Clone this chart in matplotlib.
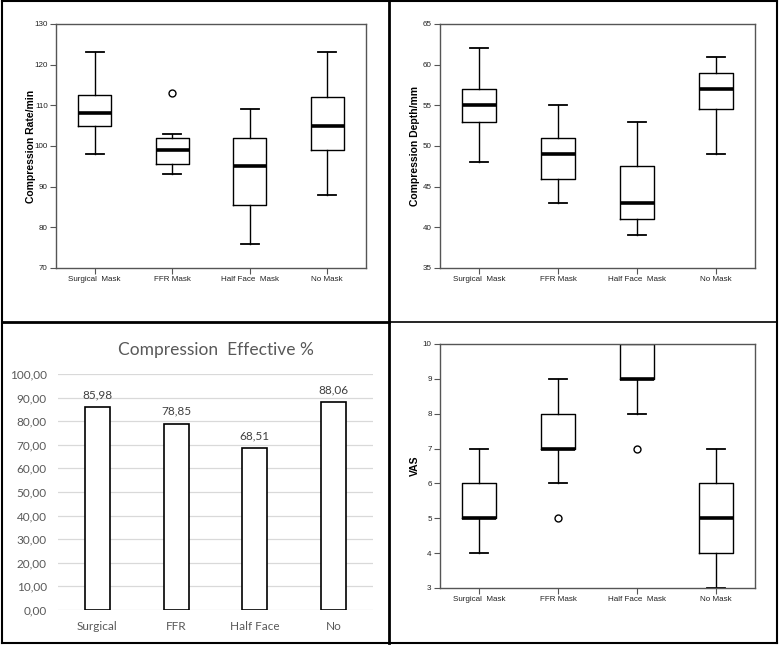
import matplotlib.pyplot as plt
from matplotlib.lines import Line2D

masks = ["Surgical  Mask", "FFR Mask", "Half Face  Mask", "No Mask"]
bar_names = ["Surgical", "FFR", "Half Face", "No"]

# box stats: low whisker, q1, median, q3, high whisker, outliers
rate_lo = [98, 93, 76, 88]
rate_q1 = [105, 95.5, 85.5, 99]
rate_med = [108, 99, 95, 105]
rate_q3 = [112.5, 102, 102, 112]
rate_hi = [123, 103, 109, 123]
rate_out = [[], [113], [], []]

depth_lo = [48, 43, 39, 49]
depth_q1 = [53, 46, 41, 54.5]
depth_med = [55, 49, 43, 57]
depth_q3 = [57, 51, 47.5, 59]
depth_hi = [62, 55, 53, 61]
depth_out = [[], [], [], []]

vas_lo = [4, 6, 8, 3]
vas_q1 = [5, 7, 9, 4]
vas_med = [5, 7, 9, 5]
vas_q3 = [6, 8, 10, 6]
vas_hi = [7, 9, 10, 7]
vas_out = [[], [5], [7], []]

effective = [85.98, 78.85, 68.51, 88.06]

W, H = 779, 645
fig = plt.figure(figsize=(W / 100, H / 100), dpi=100)
plt.rcParams['font.family'] = ['Liberation Sans', 'DejaVu Sans']


def px(x0, y0, x1, y1):
    return [x0 / W, 1 - y1 / H, (x1 - x0) / W, (y1 - y0) / H]


def boxpanel(rect, lo, q1, med, q3, hi, out, ylim, yticks, ylabel):
    ax = fig.add_axes(rect)
    stats = []
    for i in range(4):
        stats.append(dict(whislo=lo[i], q1=q1[i], med=med[i], q3=q3[i],
                          whishi=hi[i], fliers=out[i]))
    ax.bxp(stats, positions=[1, 2, 3, 4], widths=0.43, capwidths=0.23,
           boxprops=dict(color='black', linewidth=1.0),
           whiskerprops=dict(color='black', linewidth=1.0),
           capprops=dict(color='black', linewidth=1.3),
           medianprops=dict(color='black', linewidth=2.6, solid_capstyle='butt'),
           flierprops=dict(marker='o', markerfacecolor='white',
                           markeredgecolor='black', markersize=5, markeredgewidth=1.0))
    ax.set_xlim(0.5, 4.5)
    ax.set_ylim(*ylim)
    ax.set_yticks(yticks)
    ax.set_xticks([1, 2, 3, 4])
    ax.set_xticklabels(masks)
    for s in ax.spines.values():
        s.set_color('#555555')
        s.set_linewidth(1.0)
    ax.tick_params(axis='both', direction='out', length=4, width=0.8,
                   color='#555555', labelsize=5.8, labelcolor='#222222', pad=2)
    ax.set_ylabel(ylabel, fontsize=7.5, fontweight='bold')
    ax.yaxis.set_label_coords(-0.065, 0.5)
    return ax


boxpanel(px(56, 24, 366, 268), rate_lo, rate_q1, rate_med, rate_q3, rate_hi, rate_out,
         (70, 130), range(70, 131, 10), "Compression Rate/min")
boxpanel(px(440, 24, 755, 268), depth_lo, depth_q1, depth_med, depth_q3, depth_hi, depth_out,
         (35, 65), range(35, 66, 5), "Compression Depth/mm")
boxpanel(px(440, 344, 755, 588), vas_lo, vas_q1, vas_med, vas_q3, vas_hi, vas_out,
         (3, 10), range(3, 11), "VAS")

# Excel style bar chart
ax = fig.add_axes(px(58, 374, 373, 610))
x = range(len(effective))
ax.bar(x, effective, width=0.32, color='white', edgecolor='black', linewidth=1.2, zorder=3)
for i, v in enumerate(effective):
    ax.text(i, v + 3, f"{v:.2f}".replace('.', ','), ha='center', va='bottom',
            fontsize=8.5, color='#404040', family=['Lato', 'DejaVu Sans'])
ax.set_xlim(-0.5, 3.5)
ax.set_ylim(0, 100)
ax.set_yticks(range(0, 101, 10))
ax.set_yticklabels([f"{v},00" for v in range(0, 101, 10)])
ax.set_xticks(list(x))
ax.set_xticklabels(bar_names)
ax.grid(axis='y', color='#d9d9d9', linewidth=0.9, zorder=0)
for s in ax.spines.values():
    s.set_visible(False)
ax.tick_params(length=0, labelsize=8.5, labelcolor='#595959', pad=8)
for lab in ax.get_xticklabels() + ax.get_yticklabels():
    lab.set_family(['Lato', 'DejaVu Sans'])
ax.set_title("Compression  Effective %", fontsize=12.5, color='#595959',
             family=['Lato', 'DejaVu Sans'], pad=14)

# panel borders
def fline(x0, y0, x1, y1, lw=1.5):
    fig.add_artist(Line2D([x0 / W, x1 / W], [1 - y0 / H, 1 - y1 / H],
                          color='black', linewidth=lw))

fline(2, 1, 777, 1)
fline(2, 643, 777, 643)
fline(2, 1, 2, 643)
fline(777, 1, 777, 643)
fline(389, 1, 389, 643, 2)
fline(2, 322, 389, 322, 2)
fline(389, 322, 777, 322, 1.2)

fig.savefig("out.png", dpi=100)
